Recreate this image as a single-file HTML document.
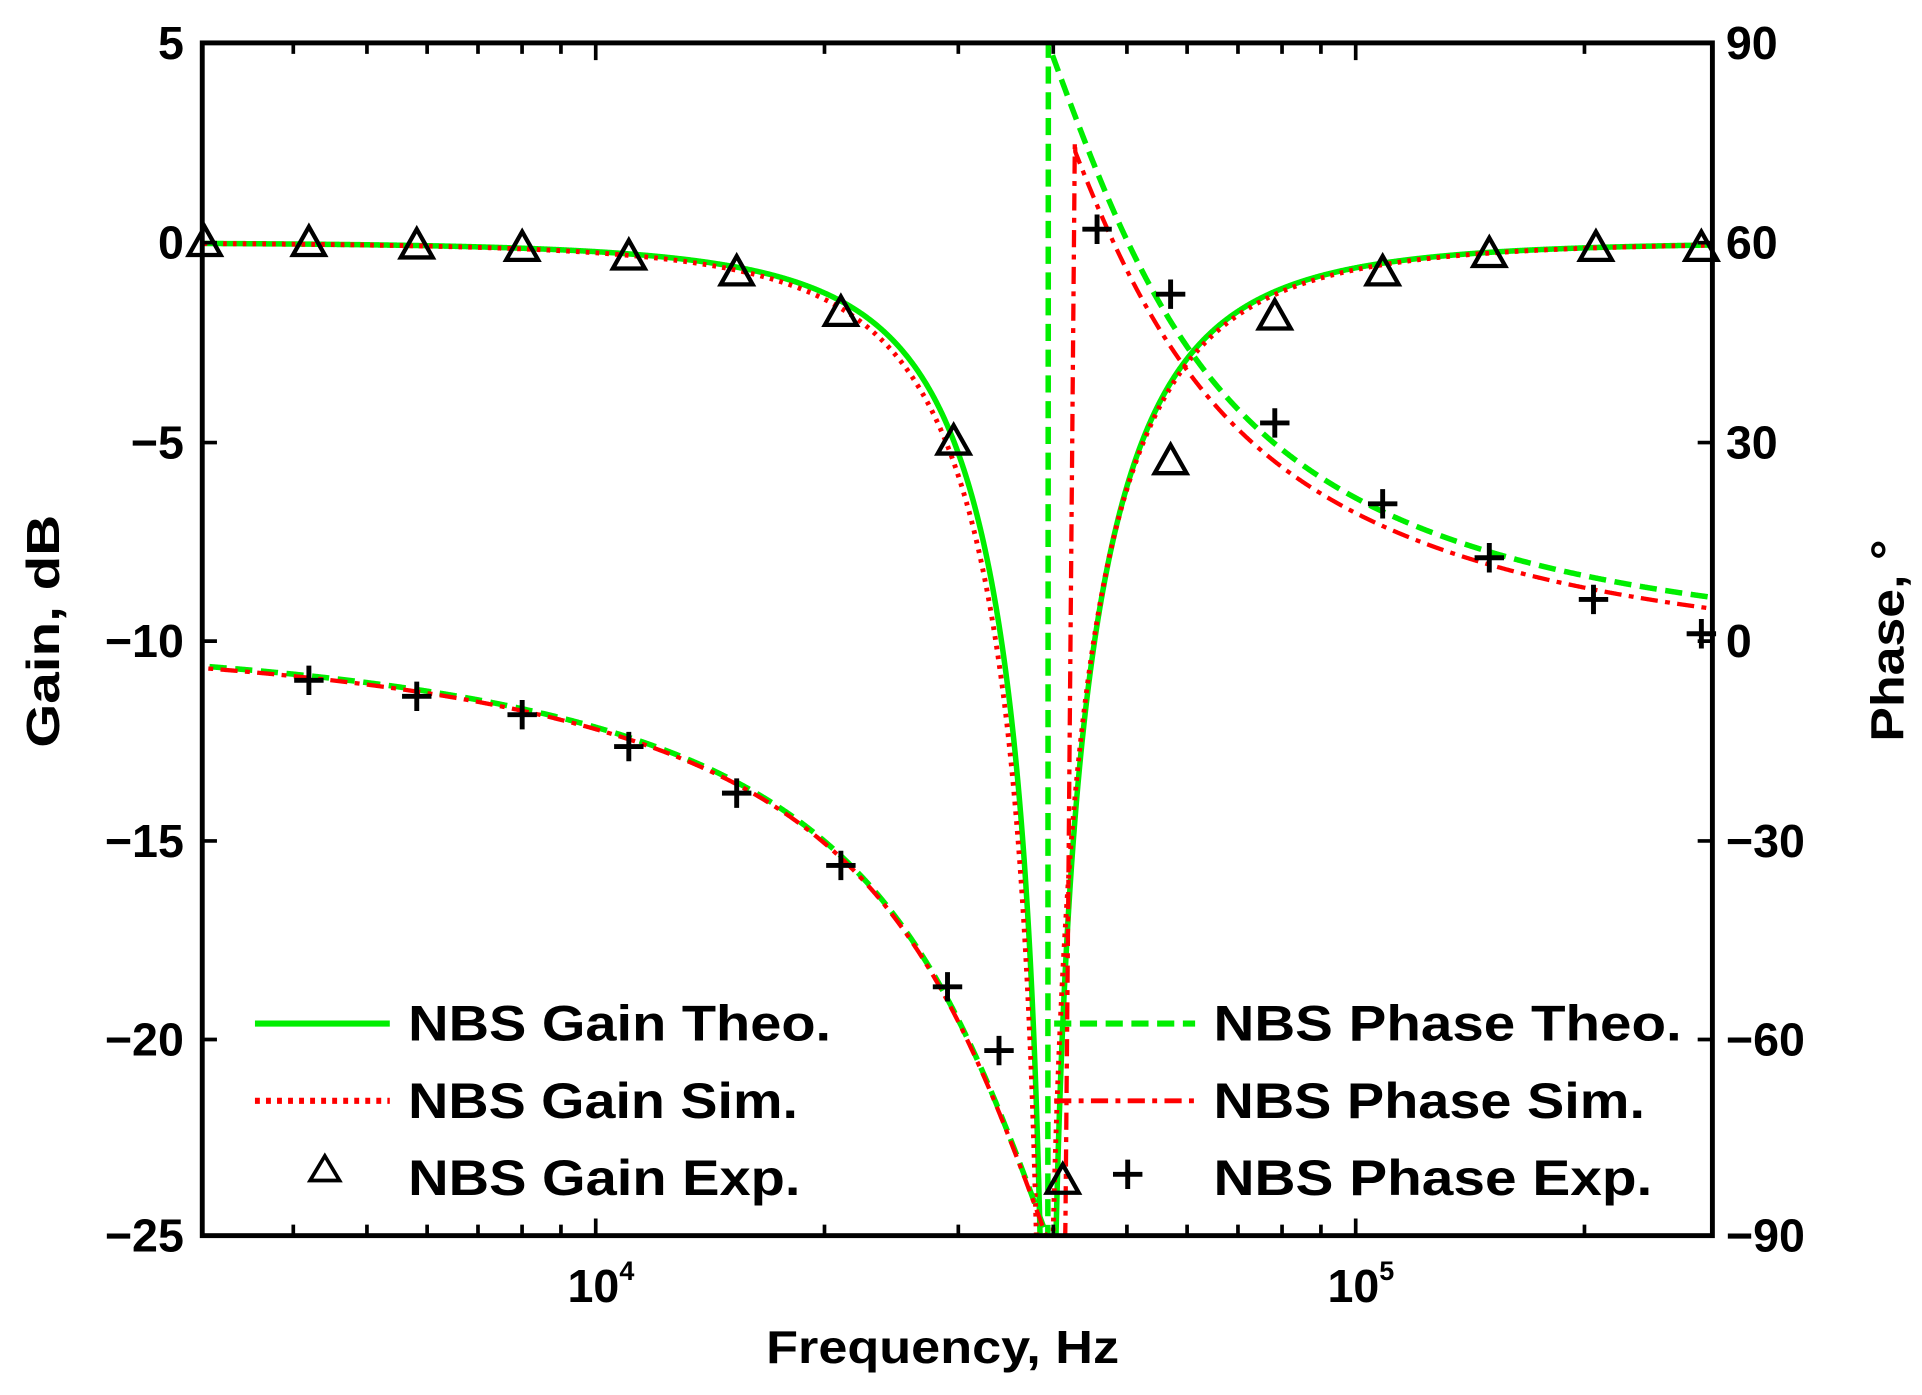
<!DOCTYPE html>
<html><head><meta charset="utf-8"><style>
html,body{margin:0;padding:0;background:#fff;overflow:hidden;width:1922px;height:1395px;}
svg{display:block;position:absolute;left:0;top:0;}
text{font-family:"Liberation Sans",Arial,sans-serif;font-weight:bold;fill:#000;}
</style></head><body>
<svg id="s" width="1922" height="1395" viewBox="0 0 1568 1138" preserveAspectRatio="none" xmlns="http://www.w3.org/2000/svg">
<defs><clipPath id="c"><rect x="165" y="35" width="1232" height="973"/></clipPath></defs>
<g id="curves" clip-path="url(#c)"></g>
<g id="marks"></g>
<rect x="165" y="35" width="1232" height="973" fill="none" stroke="#000" stroke-width="4"/>
<g id="ticks" stroke="#000" stroke-width="3"></g>
<g font-size="38" text-anchor="end">
<text x="150" y="48">5</text><text x="150" y="211">0</text><text x="150" y="374">−5</text>
<text x="150" y="536">−10</text><text x="150" y="699">−15</text><text x="150" y="861">−20</text><text x="150" y="1021">−25</text>
</g>
<g font-size="38" text-anchor="start">
<text x="1408" y="48">90</text><text x="1408" y="211">60</text><text x="1408" y="374">30</text>
<text x="1408" y="536">0</text><text x="1408" y="699">−30</text><text x="1408" y="861">−60</text><text x="1408" y="1021">−90</text>
</g>
<text x="463" y="1062" font-size="38">10<tspan font-size="22" dy="-18">4</tspan></text>
<text x="1083" y="1062" font-size="38">10<tspan font-size="22" dy="-18">5</tspan></text>
<text x="625" y="1112" font-size="38" textLength="288" lengthAdjust="spacingAndGlyphs">Frequency, Hz</text>
<text transform="translate(48,610) rotate(-90)" font-size="38" textLength="190" lengthAdjust="spacingAndGlyphs">Gain, dB</text>
<text transform="translate(1553,605) rotate(-90)" font-size="38" textLength="165" lengthAdjust="spacingAndGlyphs">Phase, °</text>
<g font-size="41">
<line x1="208" y1="835" x2="318" y2="835" stroke="#00ee00" stroke-width="5"/>
<line x1="208" y1="898" x2="318" y2="898" stroke="#ff0000" stroke-width="5" stroke-dasharray="4,5"/>
<path d="M265,943 L253,963 L277,963 Z" fill="none" stroke="#000" stroke-width="3"/>
<text x="333" y="849" textLength="345" lengthAdjust="spacingAndGlyphs">NBS Gain Theo.</text>
<text x="333" y="912" textLength="318" lengthAdjust="spacingAndGlyphs">NBS Gain Sim.</text>
<text x="333" y="975" textLength="320" lengthAdjust="spacingAndGlyphs">NBS Gain Exp.</text>
<line x1="860" y1="835" x2="975" y2="835" stroke="#00ee00" stroke-width="5" stroke-dasharray="14,7"/>
<line x1="860" y1="898" x2="975" y2="898" stroke="#ff0000" stroke-width="4" stroke-dasharray="14,6,4,6"/>
<path d="M908,958 H932 M920,946 V970" stroke="#000" stroke-width="4"/>
<text x="990" y="849" textLength="382" lengthAdjust="spacingAndGlyphs">NBS Phase Theo.</text>
<text x="990" y="912" textLength="352" lengthAdjust="spacingAndGlyphs">NBS Phase Sim.</text>
<text x="990" y="975" textLength="358" lengthAdjust="spacingAndGlyphs">NBS Phase Exp.</text>
</g>
</svg>
<script>
(function(){
var NS="http://www.w3.org/2000/svg";
function X(f){return 486+(Math.log10(f)-4)*620;}
function F(x){return Math.pow(10,4+(x-486)/620);}
function yG(g){return 198-g*32.55;}
function yP(p){return 523-p*5.42;}
var f0=F(855), Q=1.18;
function gain(f,F0,q){var r=f/F0,a=1-r*r,b=r/q;var m=Math.abs(a)/Math.sqrt(a*a+b*b);return 20*Math.log10(Math.max(m,1e-9));}
function phase(f,F0,q){var r=f/F0,a=1-r*r,b=r/q;var p=-Math.atan2(b,a)*180/Math.PI; if(p<-90)p+=180; return p;}
function pathX(fn){var d="";for(var i=0;i<=3000;i++){var x=150+i*(1420-150)/3000;var y=fn(x);d+=(i?"L":"M")+x.toFixed(2)+","+y.toFixed(2);}return d;}
function add(d,col,w,dash){var p=document.createElementNS(NS,"path");p.setAttribute("d",d);p.setAttribute("fill","none");p.setAttribute("stroke",col);p.setAttribute("stroke-width",w);if(dash)p.setAttribute("stroke-dasharray",dash);document.getElementById("curves").appendChild(p);}
add(pathX(function(x){return yG(Math.max(gain(F(x),f0,Q),-40));}),"#00ee00",4.5);
add(pathX(function(x){return yG(Math.max(gain(F(x),f0*0.99,Q*0.95),-40));}),"#ff0000",4,"3,5");
add(pathX(function(x){return yP(phase(F(x),f0,Q));}),"#00ee00",4.5,"14,7");
add(pathX(function(x){
  if(x<855) return yP(phase(F(x),f0,Q)-0.3);
  if(x<869) return yP(-92);
  var v=Math.min(phase(F(x)*1.03,f0,Q)-1.5,78);
  if(x<877) return yP(-92+(x-869)/8*(78+92));
  return yP(v);
}),"#ff0000",3.5,"14,6,4,6");
var m=document.getElementById("marks");
var tri=[[167,198],[252,198],[340,200],[426,202],[513,209],[601,222],[686,255],[778,360],[867,963],[955,376],[1040,258],[1128,222],[1215,207],[1302,202],[1388,202]];
tri.forEach(function(t){var p=document.createElementNS(NS,"path");p.setAttribute("d","M"+t[0]+","+(t[1]-13)+" L"+(t[0]-13)+","+(t[1]+10)+" L"+(t[0]+13)+","+(t[1]+10)+" Z");p.setAttribute("fill","none");p.setAttribute("stroke","#000");p.setAttribute("stroke-width","3.5");m.appendChild(p);});
var pl=[[252,555],[340,568],[426,583],[513,609],[601,647],[686,706],[773,805],[815,857],[895,187],[955,240],[1040,345],[1128,411],[1215,455],[1300,489],[1388,517]];
pl.forEach(function(t){var p=document.createElementNS(NS,"path");p.setAttribute("d","M"+(t[0]-12)+","+t[1]+"H"+(t[0]+12)+"M"+t[0]+","+(t[1]-12)+"V"+(t[1]+12));p.setAttribute("stroke","#000");p.setAttribute("stroke-width","4");m.appendChild(p);});
var tk=document.getElementById("ticks"),d="";
for(var e=3;e<=5;e++)for(var k=1;k<=9;k++){var f=k*Math.pow(10,e);var x=X(f);if(x<166||x>1396)continue;var L=(k==1)?14:9;d+="M"+x+",1008V"+(1008-L)+"M"+x+",35V"+(35+L);}
[35,198,361,523,686,848,1008].forEach(function(y){d+="M165,"+y+"H177M1397,"+y+"H1385";});
var p=document.createElementNS(NS,"path");p.setAttribute("d",d);tk.appendChild(p);
})();
</script>
</body></html>
